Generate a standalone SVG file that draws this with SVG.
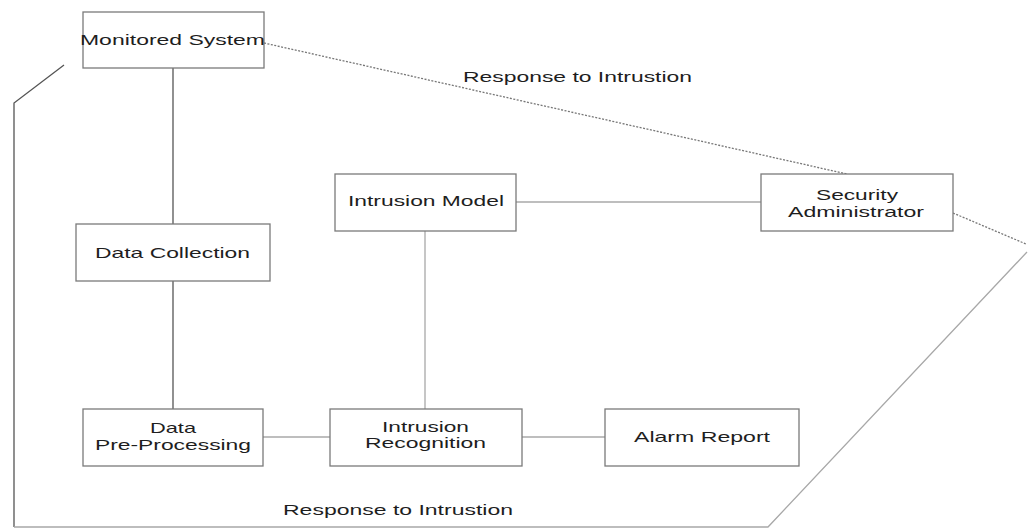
<svg xmlns="http://www.w3.org/2000/svg" width="1029" height="529" viewBox="0 0 1029 529">
<style>
.box{fill:#fff;stroke:#7a7a7a;stroke-width:1.3}
.t{font-family:"Liberation Sans",Arial,sans-serif;font-size:15px;fill:#1e1e1e}
.ln{stroke:#a8a8a8;stroke-width:1.3;fill:none}
.dk{stroke:#555;stroke-width:1.3;fill:none}
.ds{stroke:#777;stroke-width:1.3;stroke-dasharray:2 1.5;fill:none}
</style>
<rect width="1029" height="529" fill="#fff"/>
<g id="connectors">
<line class="dk" x1="173" y1="68" x2="173" y2="224"/>
<line class="dk" x1="173" y1="281" x2="173" y2="409"/>
<line class="ln" x1="263" y1="437" x2="330" y2="437"/>
<line class="ln" x1="522" y1="437" x2="605" y2="437"/>
<line class="ln" x1="425" y1="231" x2="425" y2="409"/>
<line class="ln" x1="516" y1="202" x2="761" y2="202"/>
<line class="ds" x1="264" y1="43" x2="847" y2="174"/>
<line class="ds" x1="953" y1="213" x2="1026" y2="244"/>
<polyline class="dk" points="64,65 14,103 14,527"/>
<polyline class="ln" points="14,527 768,527 1027,252" stroke="#c4c4c4"/>
<text class="t" x="463" y="82" textLength="229" lengthAdjust="spacingAndGlyphs">Response to Intrustion</text>
<text class="t" x="283" y="515" textLength="230" lengthAdjust="spacingAndGlyphs">Response to Intrustion</text>
</g>
<g id="monitored-system">
<rect class="box" x="83" y="12" width="181" height="56"/>
<text class="t" x="80" y="45" font-size="16" textLength="185" lengthAdjust="spacingAndGlyphs">Monitored System</text>
</g>
<g id="data-collection">
<rect class="box" x="76" y="224" width="194" height="57"/>
<text class="t" x="95" y="258" textLength="155" lengthAdjust="spacingAndGlyphs">Data Collection</text>
</g>
<g id="data-pre-processing">
<rect class="box" x="83" y="409" width="180" height="57"/>
<text class="t" x="150" y="433" textLength="46" lengthAdjust="spacingAndGlyphs">Data</text>
<text class="t" x="95" y="450" textLength="156" lengthAdjust="spacingAndGlyphs">Pre-Processing</text>
</g>
<g id="intrusion-model">
<rect class="box" x="335" y="174" width="181" height="57"/>
<text class="t" x="348" y="206" textLength="156" lengthAdjust="spacingAndGlyphs">Intrusion Model</text>
</g>
<g id="intrusion-recognition">
<rect class="box" x="330" y="409" width="192" height="57"/>
<text class="t" x="382" y="432" textLength="87" lengthAdjust="spacingAndGlyphs">Intrusion</text>
<text class="t" x="365" y="448" textLength="121" lengthAdjust="spacingAndGlyphs">Recognition</text>
</g>
<g id="alarm-report">
<rect class="box" x="605" y="409" width="194" height="57"/>
<text class="t" x="634" y="442" textLength="136" lengthAdjust="spacingAndGlyphs">Alarm Report</text>
</g>
<g id="security-administrator">
<rect class="box" x="761" y="174" width="192" height="57"/>
<text class="t" x="816" y="200" textLength="82" lengthAdjust="spacingAndGlyphs">Security</text>
<text class="t" x="788" y="217" textLength="136" lengthAdjust="spacingAndGlyphs">Administrator</text>
</g>
</svg>
